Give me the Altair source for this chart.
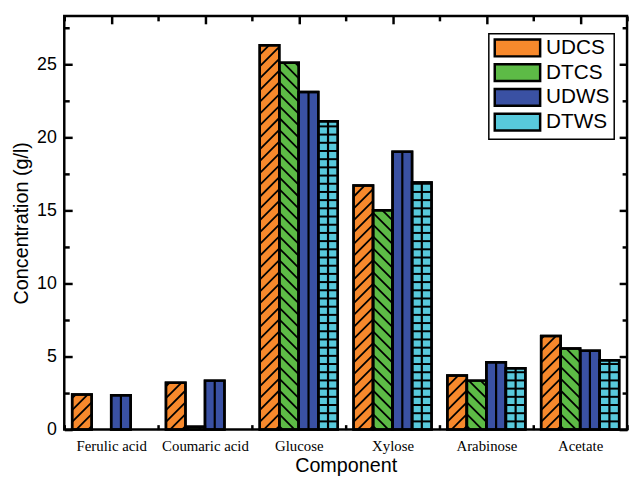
import json
import altair as alt
import pandas as pd

# ---------------- data ----------------
categories = ["Ferulic acid", "Coumaric acid", "Glucose", "Xylose", "Arabinose", "Acetate"]
series = ["UDCS", "DTCS", "UDWS", "DTWS"]
udcs = [2.4, 3.2, 26.3, 16.7, 3.7, 6.4]
dtcs = [0.0, 0.2, 25.1, 15.0, 3.35, 5.55]
udws = [2.35, 3.35, 23.1, 19.0, 4.6, 5.4]
dtws = [0.0, 0.0, 21.1, 16.9, 4.2, 4.75]
y_label_values = [0, 5, 10, 15, 20, 25]
y_tick_values = [0, 2.5, 5, 7.5, 10, 12.5, 15, 17.5, 20, 22.5, 25, 27.5]

# ---------------- style ----------------
colors = ["#F7892C", "#5DBB46", "#3A51A3", "#58C9DC"]
patterns = ["fwd", "back", "vline", "grid"]
W, H = 570, 419
YMAX = 28.3
BW = 0.208                      # bar width in category units
PX_X = W / 6.0
PX_Y = H / YMAX
R = BW * PX_X / PX_Y            # 45 degree rise over one bar (y units)
S = 12.0 / PX_Y                 # diagonal hatch spacing
G = 8.3 / PX_Y                  # grid row spacing

values_by_series = [udcs, dtcs, udws, dtws]
rows = []
for j, (s, vals) in enumerate(zip(series, values_by_series)):
    for i, v in enumerate(vals):
        x0 = i + (j - 2) * BW
        rows.append({"cat": i, "series": s, "pattern": patterns[j], "value": v,
                     "x0": x0, "x1": x0 + BW})
df = pd.DataFrame(rows)

xscale = alt.Scale(domain=[-0.5, 5.5], nice=False, zero=False)
yscale = alt.Scale(domain=[0, YMAX], nice=False, zero=False)

x_tick_values = [k / 2 for k in range(-1, 12)]
x_ticksize = {"condition": {"test": "datum.value % 1 === 0", "value": 8}, "value": 5}
y_ticksize = {"condition": {"test": "datum.value % 5 === 0", "value": 8}, "value": 5}
label_expr = json.dumps(categories) + "[datum.value]"

base = alt.Chart(df)

fill_layer = base.transform_filter("datum.value > 0").mark_rect(
    stroke="black", strokeWidth=2.5
).encode(
    x=alt.X("x0:Q", scale=xscale, axis=alt.Axis(
        orient="bottom", values=list(range(6)), labelExpr=label_expr, ticks=False,
        domain=False, grid=False, labelFont="Liberation Serif", labelFontSize=15,
        labelColor="black", labelPadding=9, title="Component", titleFont="Liberation Sans",
        titleFontSize=20, titleFontWeight="normal", titleColor="black", titlePadding=2)),
    x2="x1:Q",
    y=alt.Y("value:Q", scale=yscale, axis=alt.Axis(
        orient="left", values=y_label_values, ticks=False, domain=False, grid=False,
        labelFont="Liberation Sans", labelFontSize=18, labelColor="black", labelPadding=8,
        title="Concentration (g/l)", titleFont="Liberation Sans", titleFontSize=20,
        titleFontWeight="normal", titleColor="black", titlePadding=5)),
    y2=alt.datum(0),
    fill=alt.Fill("series:N", scale=alt.Scale(domain=series, range=colors), legend=alt.Legend(
        orient="none", legendX=430, legendY=18, title=None,
        symbolType="M-1,-1H4.41V1H-1Z", symbolSize=289,
        symbolStrokeColor="black", symbolStrokeWidth=2.5, symbolOpacity=1,
        labelFont="Liberation Sans", labelFontSize=21, labelColor="black", labelOffset=33,
        strokeColor="black", fillColor="white", padding=4, rowPadding=-2)),
)

diag_layer = base.transform_filter(
    "(datum.pattern === 'fwd' || datum.pattern === 'back') && datum.value > 0"
).transform_calculate(
    k=f"sequence(0, ceil((datum.value + {R}) / {S}) + 1)"
).transform_flatten(["k"]).transform_calculate(
    y0=f"datum.k * {S} - {R} + {0.3 * S}"
).transform_calculate(
    ya="max(datum.y0, 0)"
).transform_calculate(
    yb=f"min(datum.y0 + {R}, datum.value)"
).transform_filter("datum.ya < datum.yb").transform_calculate(
    fa=f"(datum.ya - datum.y0) / {R}"
).transform_calculate(
    fb=f"(datum.yb - datum.y0) / {R}"
).transform_calculate(
    xa="datum.pattern === 'fwd' ? datum.x0 + datum.fa * (datum.x1 - datum.x0) : datum.x1 - datum.fa * (datum.x1 - datum.x0)"
).transform_calculate(
    xb="datum.pattern === 'fwd' ? datum.x0 + datum.fb * (datum.x1 - datum.x0) : datum.x1 - datum.fb * (datum.x1 - datum.x0)"
).mark_rule(color="black", strokeWidth=1.8).encode(
    x=alt.X("xa:Q", scale=xscale, axis=alt.Axis(
        orient="bottom", offset=-H, values=x_tick_values, labels=False, domain=False,
        grid=False, title=None, tickColor="black", tickWidth=2.5, tickSize=x_ticksize)),
    x2="xb:Q",
    y=alt.Y("ya:Q", scale=yscale, axis=alt.Axis(
        orient="right", offset=-W, values=y_tick_values, labels=False, domain=False,
        grid=False, title=None, tickColor="black", tickWidth=2.5, tickSize=y_ticksize)),
    y2="yb:Q",
)

vline_layer = base.transform_filter(
    "(datum.pattern === 'vline' || datum.pattern === 'grid') && datum.value > 0"
).transform_calculate(
    xm="(datum.x0 + datum.x1) / 2"
).mark_rule(color="black", strokeWidth=2.2).encode(
    x=alt.X("xm:Q", scale=xscale, axis=alt.Axis(
        orient="top", offset=-H, values=x_tick_values, labels=False, domain=False,
        grid=False, title=None, tickColor="black", tickWidth=2.5, tickSize=5)),
    y=alt.Y("value:Q", scale=yscale, axis=alt.Axis(
        orient="left", offset=-W, values=y_tick_values, labels=False, domain=False,
        grid=False, title=None, tickColor="black", tickWidth=2.5, tickSize=y_ticksize)),
    y2=alt.datum(0),
)

grid_layer = base.transform_filter(
    "datum.pattern === 'grid' && datum.value > 0"
).transform_calculate(
    k=f"sequence(1, ceil(datum.value / {G}))"
).transform_flatten(["k"]).transform_calculate(
    yg=f"datum.k * {G}"
).transform_filter("datum.yg < datum.value").mark_rule(color="black", strokeWidth=2).encode(
    x=alt.X("x0:Q", scale=xscale, axis=None),
    x2="x1:Q",
    y=alt.Y("yg:Q", scale=yscale, axis=None),
)

outline_layer = base.transform_filter("datum.value > 0").mark_rect(
    fillOpacity=0, stroke="black", strokeWidth=2.5
).encode(
    x=alt.X("x0:Q", scale=xscale, axis=None),
    x2="x1:Q",
    y=alt.Y("value:Q", scale=yscale, axis=None),
    y2=alt.datum(0),
)

chart = alt.layer(
    fill_layer, diag_layer, vline_layer, grid_layer, outline_layer
).resolve_axis(
    x="independent", y="independent"
).properties(
    width=W, height=H,
    padding={"left": 57, "top": 5, "right": 4, "bottom": 45},
    autosize=alt.AutoSizeParams(type="none"),
    background="white",
).configure_view(
    stroke="black", strokeWidth=2.5
).configure_legend(
    strokeWidth=1.5
)

chart.save("out.html", embed_options={"renderer": "svg", "actions": False})
